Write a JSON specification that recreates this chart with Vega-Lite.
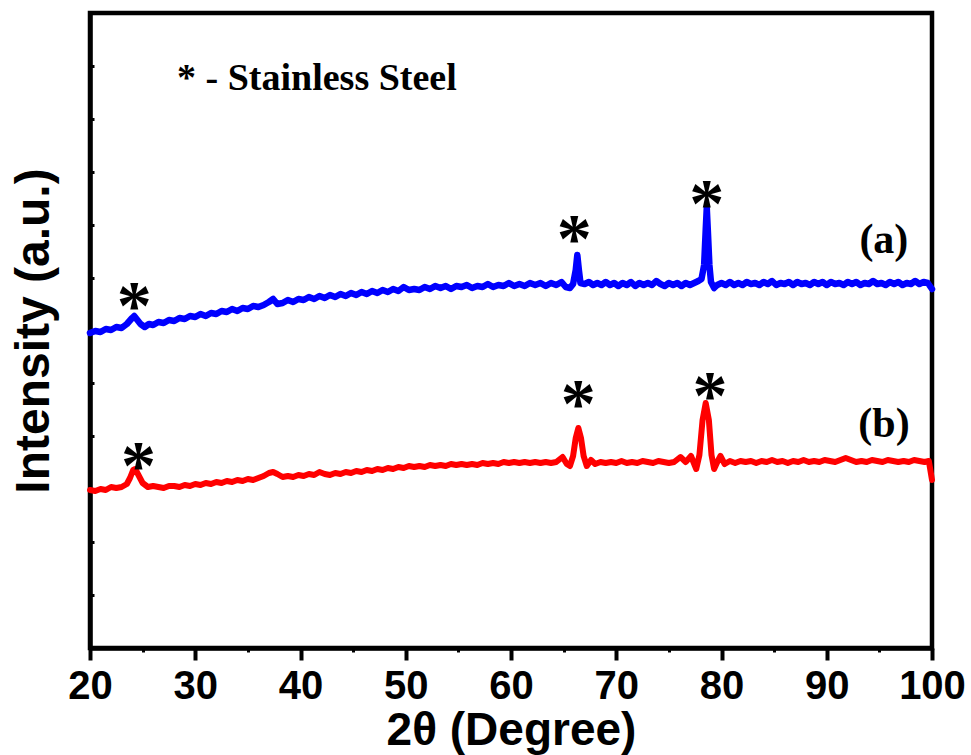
{
"$schema": "https://vega.github.io/schema/vega-lite/v6.json",
"width": 842, "height": 635,
"autosize": {"type": "none"},
"padding": {"left": 90, "top": 13, "right": 39, "bottom": 107},
"background": "white",
"config": {"view": {"stroke": "black", "strokeWidth": 4.5}},
"datasets": {
"blue": [
{"t":20.0,"v":315},{"t":20.5,"v":317},{"t":21.0,"v":316},{"t":21.5,"v":319},{"t":22.0,"v":318},{"t":22.5,"v":321},{"t":23.0,"v":320},{"t":23.5,"v":324},{"t":24.0,"v":330},{"t":24.2,"v":332},{"t":24.5,"v":328},{"t":24.8,"v":324},{"t":25.2,"v":321},{"t":25.6,"v":324},{"t":26.0,"v":323},{"t":26.5,"v":326},{"t":27.0,"v":325},{"t":27.5,"v":328},{"t":28.0,"v":327},{"t":28.5,"v":330},{"t":29.0,"v":329},{"t":29.5,"v":332},{"t":30.0,"v":331},{"t":30.5,"v":334},{"t":31.0,"v":332},{"t":31.5,"v":335},{"t":32.0,"v":334},{"t":32.5,"v":337},{"t":33.0,"v":336},{"t":33.5,"v":339},{"t":34.0,"v":337},{"t":34.5,"v":340},{"t":35.0,"v":339},{"t":35.5,"v":342},{"t":36.0,"v":341},{"t":36.5,"v":343},{"t":37.0,"v":346},{"t":37.4,"v":349},{"t":37.8,"v":344},{"t":38.3,"v":345},{"t":38.8,"v":348},{"t":39.3,"v":346},{"t":39.8,"v":349},{"t":40.3,"v":348},{"t":40.8,"v":351},{"t":41.3,"v":349},{"t":41.8,"v":352},{"t":42.3,"v":350},{"t":42.8,"v":353},{"t":43.3,"v":351},{"t":43.8,"v":354},{"t":44.3,"v":352},{"t":44.8,"v":355},{"t":45.3,"v":353},{"t":45.8,"v":356},{"t":46.3,"v":354},{"t":46.8,"v":357},{"t":47.3,"v":355},{"t":47.8,"v":358},{"t":48.3,"v":356},{"t":48.8,"v":359},{"t":49.3,"v":357},{"t":49.8,"v":361},{"t":50.3,"v":358},{"t":50.8,"v":359},{"t":51.3,"v":358},{"t":51.8,"v":361},{"t":52.3,"v":359},{"t":52.8,"v":362},{"t":53.3,"v":360},{"t":53.8,"v":362},{"t":54.3,"v":359},{"t":54.8,"v":362},{"t":55.3,"v":361},{"t":55.8,"v":363},{"t":56.3,"v":360},{"t":56.8,"v":362},{"t":57.3,"v":361},{"t":57.8,"v":364},{"t":58.3,"v":361},{"t":58.8,"v":363},{"t":59.3,"v":362},{"t":59.8,"v":365},{"t":60.3,"v":362},{"t":60.8,"v":364},{"t":61.3,"v":362},{"t":61.8,"v":365},{"t":62.3,"v":363},{"t":62.8,"v":365},{"t":63.3,"v":362},{"t":63.8,"v":365},{"t":64.3,"v":363},{"t":64.8,"v":366},{"t":65.2,"v":361},{"t":65.6,"v":360},{"t":65.9,"v":364},{"t":66.15,"v":378},{"t":66.3,"v":393},{"t":66.45,"v":378},{"t":66.6,"v":365},{"t":67.0,"v":364},{"t":67.4,"v":366},{"t":67.8,"v":363},{"t":68.2,"v":365},{"t":68.6,"v":363},{"t":69.0,"v":366},{"t":69.4,"v":363},{"t":69.8,"v":365},{"t":70.2,"v":362},{"t":70.6,"v":365},{"t":71.0,"v":363},{"t":71.4,"v":366},{"t":71.8,"v":362},{"t":72.2,"v":365},{"t":72.6,"v":363},{"t":73.0,"v":365},{"t":73.4,"v":363},{"t":73.8,"v":367},{"t":74.2,"v":364},{"t":74.6,"v":362},{"t":75.0,"v":365},{"t":75.4,"v":363},{"t":75.8,"v":365},{"t":76.2,"v":362},{"t":76.6,"v":365},{"t":77.0,"v":363},{"t":77.4,"v":365},{"t":77.8,"v":367},{"t":78.1,"v":369},{"t":78.35,"v":383},{"t":78.5,"v":418},{"t":78.6,"v":440},{"t":78.7,"v":418},{"t":78.85,"v":383},{"t":79.0,"v":366},{"t":79.3,"v":360},{"t":79.6,"v":363},{"t":80.0,"v":365},{"t":80.4,"v":363},{"t":80.8,"v":366},{"t":81.2,"v":363},{"t":81.6,"v":365},{"t":82.0,"v":363},{"t":82.4,"v":366},{"t":82.8,"v":364},{"t":83.2,"v":365},{"t":83.6,"v":363},{"t":84.0,"v":366},{"t":84.4,"v":364},{"t":84.8,"v":367},{"t":85.2,"v":363},{"t":85.6,"v":365},{"t":86.0,"v":364},{"t":86.4,"v":366},{"t":86.8,"v":363},{"t":87.2,"v":366},{"t":87.6,"v":364},{"t":88.0,"v":365},{"t":88.4,"v":363},{"t":88.8,"v":366},{"t":89.2,"v":364},{"t":89.6,"v":366},{"t":90.0,"v":363},{"t":90.4,"v":366},{"t":90.8,"v":364},{"t":91.2,"v":365},{"t":91.6,"v":363},{"t":92.0,"v":366},{"t":92.4,"v":364},{"t":92.8,"v":366},{"t":93.2,"v":363},{"t":93.6,"v":365},{"t":94.0,"v":364},{"t":94.4,"v":367},{"t":94.8,"v":364},{"t":95.2,"v":365},{"t":95.6,"v":363},{"t":96.0,"v":366},{"t":96.4,"v":364},{"t":96.8,"v":366},{"t":97.2,"v":363},{"t":97.6,"v":365},{"t":98.0,"v":364},{"t":98.4,"v":367},{"t":98.8,"v":364},{"t":99.2,"v":366},{"t":99.6,"v":365},{"t":100.0,"v":359}
],
"red": [
{"t":20.0,"v":158},{"t":20.5,"v":157},{"t":21.0,"v":159},{"t":21.5,"v":158},{"t":22.0,"v":161},{"t":22.5,"v":160},{"t":23.0,"v":161},{"t":23.5,"v":164},{"t":23.8,"v":170},{"t":24.1,"v":178},{"t":24.3,"v":179},{"t":24.6,"v":173},{"t":25.0,"v":165},{"t":25.5,"v":161},{"t":26.0,"v":162},{"t":26.5,"v":161},{"t":27.0,"v":160},{"t":27.5,"v":162},{"t":28.0,"v":162},{"t":28.5,"v":161},{"t":29.0,"v":163},{"t":29.5,"v":162},{"t":30.0,"v":164},{"t":30.5,"v":163},{"t":31.0,"v":165},{"t":31.5,"v":164},{"t":32.0,"v":166},{"t":32.5,"v":165},{"t":33.0,"v":167},{"t":33.5,"v":166},{"t":34.0,"v":168},{"t":34.5,"v":167},{"t":35.0,"v":169},{"t":35.5,"v":168},{"t":36.0,"v":170},{"t":36.5,"v":172},{"t":37.0,"v":175},{"t":37.4,"v":176},{"t":37.8,"v":174},{"t":38.3,"v":171},{"t":38.8,"v":172},{"t":39.3,"v":171},{"t":39.8,"v":173},{"t":40.3,"v":172},{"t":40.8,"v":174},{"t":41.3,"v":173},{"t":41.8,"v":176},{"t":42.3,"v":174},{"t":42.8,"v":173},{"t":43.3,"v":175},{"t":43.8,"v":174},{"t":44.3,"v":176},{"t":44.8,"v":175},{"t":45.3,"v":177},{"t":45.8,"v":176},{"t":46.3,"v":178},{"t":46.8,"v":177},{"t":47.3,"v":179},{"t":47.8,"v":178},{"t":48.3,"v":180},{"t":48.8,"v":179},{"t":49.3,"v":181},{"t":49.8,"v":180},{"t":50.3,"v":182},{"t":50.8,"v":181},{"t":51.3,"v":182},{"t":51.8,"v":181},{"t":52.3,"v":183},{"t":52.8,"v":182},{"t":53.3,"v":183},{"t":53.8,"v":182},{"t":54.3,"v":184},{"t":54.8,"v":183},{"t":55.3,"v":184},{"t":55.8,"v":183},{"t":56.3,"v":184},{"t":56.8,"v":183},{"t":57.3,"v":185},{"t":57.8,"v":184},{"t":58.3,"v":185},{"t":58.8,"v":184},{"t":59.3,"v":186},{"t":59.8,"v":185},{"t":60.3,"v":186},{"t":60.8,"v":185},{"t":61.3,"v":186},{"t":61.8,"v":185},{"t":62.3,"v":186},{"t":62.8,"v":185},{"t":63.3,"v":186},{"t":63.8,"v":185},{"t":64.3,"v":186},{"t":64.9,"v":191},{"t":65.3,"v":184},{"t":65.6,"v":182},{"t":65.9,"v":192},{"t":66.15,"v":210},{"t":66.4,"v":220},{"t":66.65,"v":210},{"t":66.9,"v":192},{"t":67.2,"v":182},{"t":67.6,"v":188},{"t":68.0,"v":184},{"t":68.5,"v":186},{"t":69.0,"v":185},{"t":69.5,"v":186},{"t":70.0,"v":185},{"t":70.5,"v":187},{"t":71.0,"v":185},{"t":71.5,"v":186},{"t":72.0,"v":185},{"t":72.5,"v":187},{"t":73.0,"v":186},{"t":73.5,"v":185},{"t":74.0,"v":187},{"t":74.5,"v":186},{"t":75.0,"v":185},{"t":75.5,"v":186},{"t":76.1,"v":191},{"t":76.6,"v":186},{"t":77.1,"v":192},{"t":77.6,"v":179},{"t":77.9,"v":193},{"t":78.2,"v":228},{"t":78.5,"v":245},{"t":78.8,"v":228},{"t":79.05,"v":193},{"t":79.3,"v":179},{"t":79.6,"v":186},{"t":79.9,"v":192},{"t":80.3,"v":184},{"t":80.8,"v":187},{"t":81.3,"v":185},{"t":81.8,"v":187},{"t":82.3,"v":186},{"t":82.8,"v":187},{"t":83.3,"v":185},{"t":83.8,"v":187},{"t":84.3,"v":186},{"t":84.8,"v":188},{"t":85.3,"v":186},{"t":85.8,"v":187},{"t":86.3,"v":185},{"t":86.8,"v":187},{"t":87.3,"v":186},{"t":87.8,"v":188},{"t":88.3,"v":186},{"t":88.8,"v":187},{"t":89.3,"v":186},{"t":89.8,"v":188},{"t":90.3,"v":187},{"t":90.8,"v":186},{"t":91.3,"v":188},{"t":91.8,"v":190},{"t":92.3,"v":188},{"t":92.8,"v":186},{"t":93.3,"v":187},{"t":93.8,"v":186},{"t":94.3,"v":188},{"t":94.8,"v":187},{"t":95.3,"v":186},{"t":95.8,"v":188},{"t":96.3,"v":187},{"t":96.8,"v":186},{"t":97.3,"v":187},{"t":97.8,"v":186},{"t":98.3,"v":188},{"t":98.8,"v":187},{"t":99.3,"v":186},{"t":99.7,"v":187},{"t":100.0,"v":168}
],
"stars": [
{"t":24.2,"v":353,"s":"*"},{"t":66.0,"v":420,"s":"*"},{"t":78.6,"v":455,"s":"*"},
{"t":24.6,"v":193,"s":"*"},{"t":66.4,"v":255,"s":"*"},{"t":78.9,"v":263,"s":"*"}
],
"labels": [
{"t":28.27,"v":558,"s":"* - Stainless Steel","f":38},
{"t":93.1,"v":395,"s":"(a)","f":42},
{"t":93.0,"v":211,"s":"(b)","f":42}
]
},
"resolve": {"axis": {"x": "independent"}},
"layer": [
{
"data": {"name": "blue"},
"mark": {"type": "line", "color": "#0000FF", "strokeWidth": 6.5, "strokeJoin": "round", "strokeCap": "round"},
"encoding": {
"x": {"field": "t", "type": "quantitative", "scale": {"domain": [20, 100], "nice": false, "zero": false},
"axis": {"orient": "bottom", "values": [20,30,40,50,60,70,80,90,100], "grid": false, "tickSize": 12, "tickWidth": 4, "tickColor": "black", "domainColor": "black", "domainWidth": 4.5, "labelFont": "Liberation Sans", "labelFontWeight": "bold", "labelFontSize": 40, "labelColor": "black", "labelPadding": 6, "labelFlush": false, "labelOverlap": false, "labelBound": false, "title": "2θ (Degree)", "titleFont": "Liberation Sans", "titleFontSize": 46, "titleFontWeight": "bold", "titleColor": "black", "titlePadding": 2}},
"y": {"field": "v", "type": "quantitative", "scale": {"domain": [0, 635], "nice": false, "zero": false},
"axis": {"values": [0,52.92,105.83,158.75,211.67,264.58,317.5,370.42,423.33,476.25,529.17,582.08,635], "grid": false, "labels": false, "tickSize": -4, "tickWidth": 3, "tickColor": "black", "domainColor": "black", "domainWidth": 4.5, "title": "Intensity (a.u.)", "titleFont": "Liberation Sans", "titleFontSize": 48, "titleFontWeight": "bold", "titleColor": "black", "titlePadding": 30}}
}
},
{
"data": {"name": "red"},
"mark": {"type": "line", "color": "#FF0000", "strokeWidth": 6, "strokeJoin": "round", "strokeCap": "round"},
"encoding": {
"x": {"field": "t", "type": "quantitative",
"axis": {"orient": "bottom", "values": [25,35,45,55,65,75,85,95], "grid": false, "labels": false, "domain": false, "tickSize": 4, "tickWidth": 3, "tickColor": "black", "title": null}},
"y": {"field": "v", "type": "quantitative"}
}
},
{
"data": {"name": "stars"},
"mark": {"type": "text", "font": "Liberation Serif", "fontWeight": "bold", "fontSize": 70, "baseline": "alphabetic", "align": "center", "dy": 34, "color": "black"},
"encoding": {
"x": {"field": "t", "type": "quantitative", "axis": null},
"y": {"field": "v", "type": "quantitative"},
"text": {"field": "s"}
}
},
{
"data": {"name": "labels"},
"mark": {"type": "text", "font": "Liberation Serif", "fontWeight": "bold", "baseline": "alphabetic", "align": "left", "color": "black"},
"encoding": {
"x": {"field": "t", "type": "quantitative", "axis": null},
"y": {"field": "v", "type": "quantitative"},
"text": {"field": "s"},
"size": {"field": "f", "type": "quantitative", "scale": null}
}
}
]
}
